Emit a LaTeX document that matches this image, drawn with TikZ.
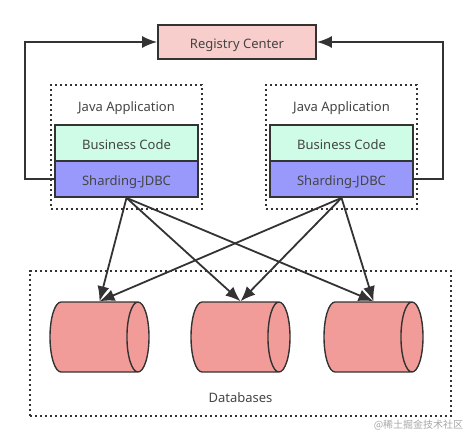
\documentclass[tikz,border=0pt]{standalone}
\usepackage{xcolor}
\usepackage{fontspec}
\usepackage{tikz}
\setmainfont{Noto Sans}
\newfontfamily\cjk{Noto Sans CJK SC}
\usetikzlibrary{shapes.geometric}
\usetikzlibrary{arrows.meta}
\usetikzlibrary{positioning}
\definecolor{linegray}{HTML}{333333}
\definecolor{textgray}{HTML}{444444}
\definecolor{regpink}{HTML}{F8CECC}
\definecolor{codegreen}{HTML}{CFFCE6}
\definecolor{shardblue}{HTML}{9999FB}
\definecolor{dbred}{HTML}{F19C99}
\begin{document}
\begin{tikzpicture}[
  x=1pt,y=-1pt,
  every node/.style={font=\fontsize{13}{15}\selectfont,text=textgray,inner sep=0pt,text height=11pt,text depth=0pt},
  box/.style={draw=linegray,line width=1.8pt,minimum width=143pt,minimum height=36pt,text height=12.5pt},
  group/.style={draw=linegray,line width=1.6pt,dash pattern=on 2.4pt off 2.6pt},
  db/.style={shape=cylinder,draw=linegray,fill=dbred,line width=1.4pt,aspect=0.315,text height=0pt,
    inner ysep=35pt,minimum height=99pt,shape border rotate=0,anchor=shape center},
  link/.style={draw=linegray,line width=1.8pt,-{Latex[length=15pt,width=12pt]}}
]
\useasboundingbox (0,0) rectangle (476,441);
\node[group,minimum width=151pt,minimum height=124pt] (appl) at (126.5,147) {};
\node[group,minimum width=151pt,minimum height=124pt] (appr) at (341.5,147) {};
\node[group,minimum width=421pt,minimum height=145pt] (dbs) at (240.5,343.5) {};
\node[box,fill=regpink,minimum width=158pt,minimum height=34pt] (registry) at (237,42) {Registry Center};
\node (javal) at (126.5,106) {Java Application};
\node (javar) at (341.5,106) {Java Application};
\node[box,fill=codegreen] (codel) at (126.5,143) {Business Code};
\node[box,fill=codegreen] (coder) at (341.5,143) {Business Code};
\node[box,fill=shardblue,below=-1.8pt of codel] (shardl) {Sharding-JDBC};
\node[box,fill=shardblue,below=-1.8pt of coder] (shardr) {Sharding-JDBC};
\node[db] (dba) at (99.5,337) {};
\node[db] (dbb) at (240.5,337) {};
\node[db] (dbc) at (373.5,337) {};
\node (dbtext) at (240.5,397) {Databases};
\node[text=gray!70,font=\cjk\fontsize{10}{12}\selectfont] (mark) at (418.5,423) {@稀土掘金技术社区};
\draw[link] (shardl.west) -- ++(-29,0) |- (registry.west);
\draw[link] (shardr.east) -- ++(29,0) |- (registry.east);
\foreach \s in {shardl,shardr}
  \foreach \d in {dba,dbb,dbc}
    \draw[link] (\s.south) -- (\d.shape center |- \d.north);
\end{tikzpicture}
\end{document}
